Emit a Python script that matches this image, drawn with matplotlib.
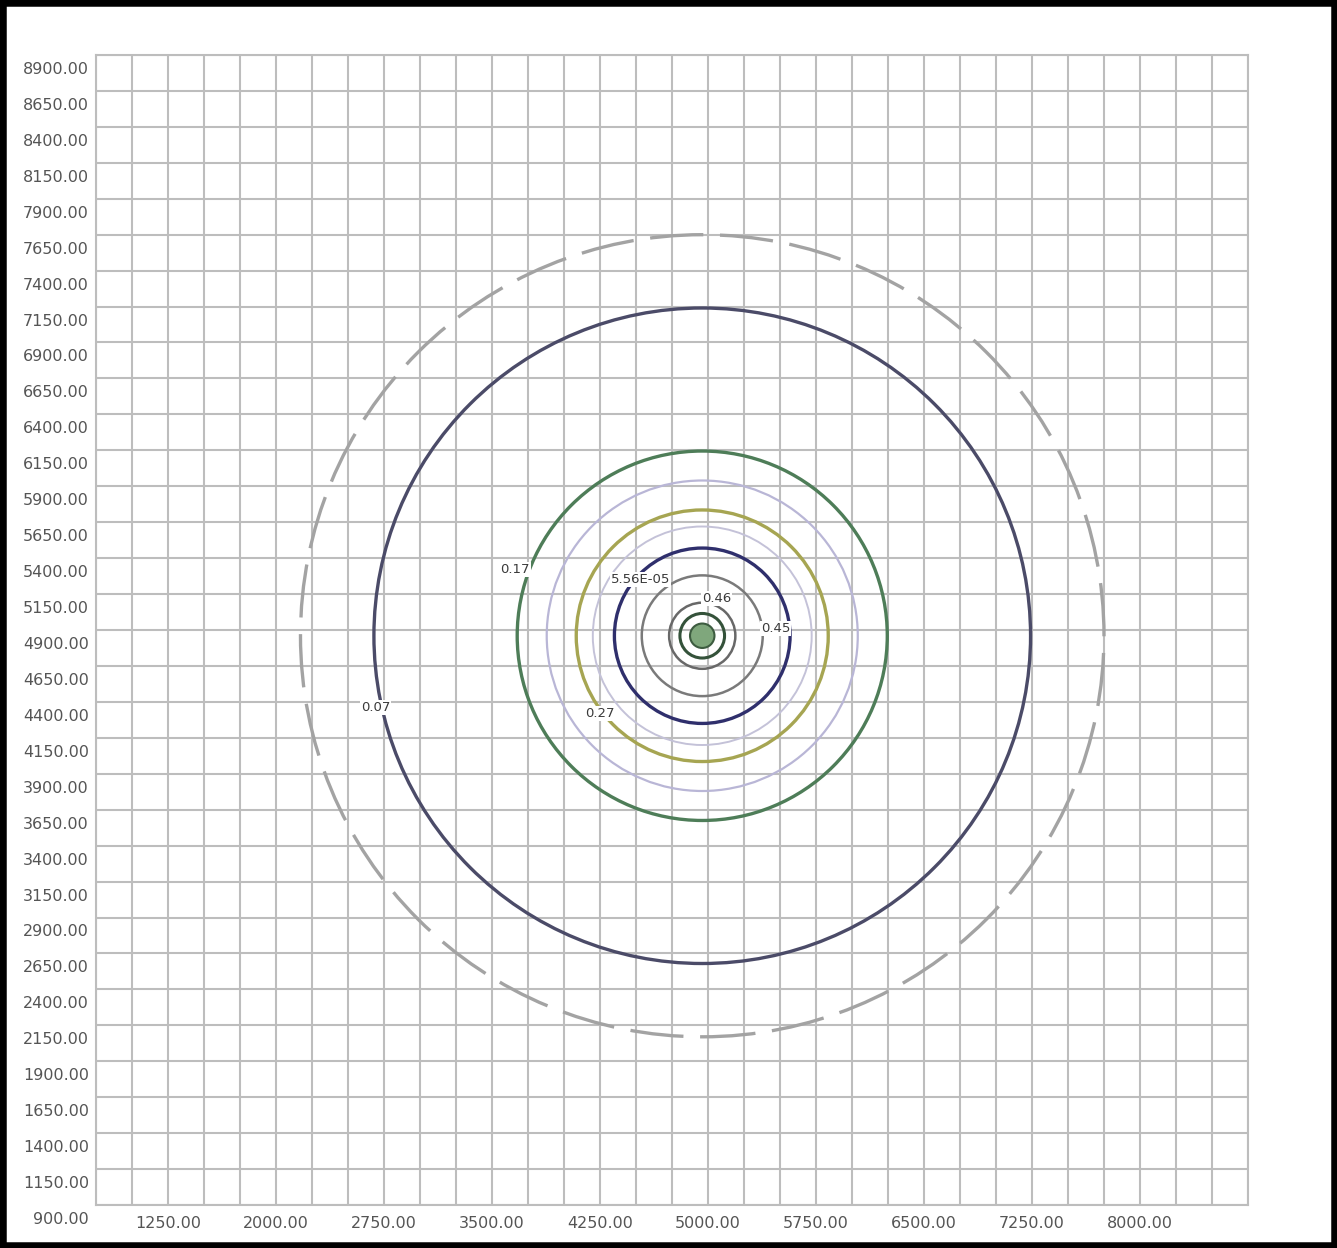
import matplotlib
matplotlib.use("Agg")
import matplotlib.pyplot as plt
import matplotlib.transforms as mtransforms
from matplotlib import patches
from matplotlib.ticker import MultipleLocator

# grid / axis ranges
x_min, x_max = 750, 8750
y_min, y_max = 900, 8900
x_ticks = [1250, 2000, 2750, 3500, 4250, 5000, 5750, 6500, 7250, 8000]
y_ticks = list(range(900, 8901, 250))

# contour rings (centre + radius in data units)
center = (4960, 4860)
ring_radius = [2790, 2280, 1285, 1080, 875, 760, 610, 420, 230, 155]
ring_color = ['#a3a3a3', '#4b4b68', '#4e7d58', '#b9b6d6', '#a6a552',
              '#c4c2d8', '#2f2f6c', '#7a7a7a', '#686868', '#34523a']
ring_style = ['dashed', 'solid', 'solid', 'solid', 'solid',
              'solid', 'solid', 'solid', 'solid', 'solid']
ring_width = [2.4, 2.4, 2.4, 1.6, 2.4, 1.4, 2.4, 1.8, 1.8, 2.2]
core_radius = 85

# contour value labels
label_text = ['0.07', '0.17', '0.27', '5.56E-05', '0.46', '0.45']
label_x = [2690, 3660, 4250, 4530, 5060, 5470]
label_y = [4360, 5320, 4320, 5250, 5120, 4910]

fig = plt.figure(figsize=(13.37, 12.48), dpi=100)
ax = fig.add_axes([96 / 1337, 43 / 1248, 1152 / 1337, 1150 / 1248])

ax.set_xlim(x_min, x_max)
ax.set_ylim(y_min, y_max)

ax.xaxis.set_minor_locator(MultipleLocator(250))
ax.set_xticks(x_ticks)
ax.set_xticklabels([f"{v:.2f}" for v in x_ticks])
ax.set_yticks(y_ticks)
ax.set_yticklabels([f"{v:.2f}" for v in y_ticks])
ax.tick_params(which='both', length=0)
ax.tick_params(axis='x', pad=8, labelsize=11.5, labelcolor='#555555')
ax.tick_params(axis='y', pad=5, labelsize=11.5, labelcolor='#555555')
ax.grid(which='both', color='#bdbdbd', linewidth=1.5)
ax.set_axisbelow(True)
for s in ax.spines.values():
    s.set_color('#bdbdbd')
    s.set_linewidth(1.5)

# y labels sit a bit below their grid line
offset = mtransforms.ScaledTranslation(0, -13 / 100, fig.dpi_scale_trans)
for lab in ax.get_yticklabels():
    lab.set_transform(lab.get_transform() + offset)

for r, c, ls, lw in zip(ring_radius, ring_color, ring_style, ring_width):
    circ = patches.Circle(center, r, fill=False, edgecolor=c, linewidth=lw)
    if ls == 'dashed':
        circ.set_linestyle((0, (16, 5)))
    ax.add_patch(circ)
ax.add_patch(patches.Circle(center, core_radius, facecolor='#7fa77c',
                            edgecolor='#3d5c40', linewidth=1.5))

for t, x, y in zip(label_text, label_x, label_y):
    ax.text(x, y, t, fontsize=9.5, color='#3a3a3a', ha='center', va='center',
            bbox=dict(facecolor='white', edgecolor='none', pad=0.8))

fig.patches.append(patches.Rectangle((0, 0), 1, 1, transform=fig.transFigure,
                                     fill=False, edgecolor='black', linewidth=9))

fig.savefig("out.png", dpi=100)
